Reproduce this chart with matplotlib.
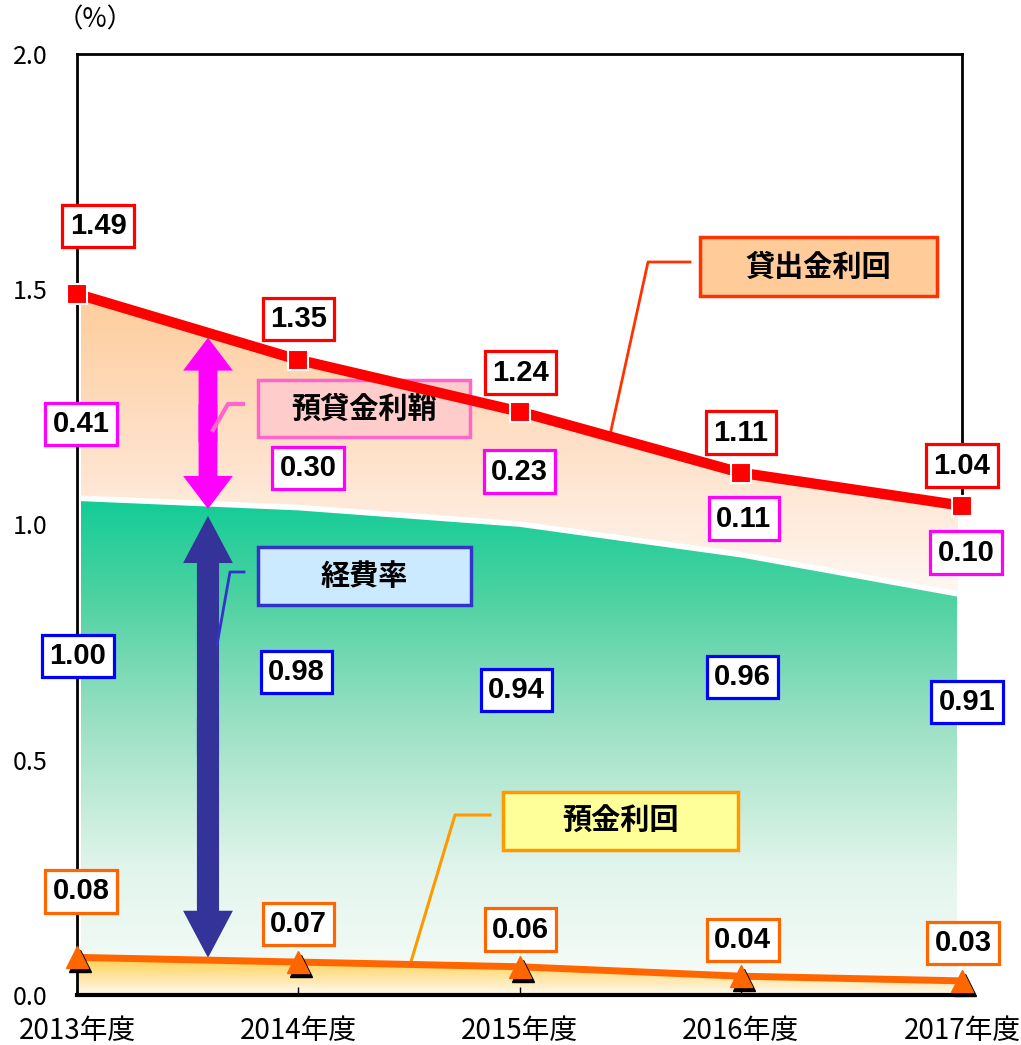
import numpy as np
import matplotlib
matplotlib.use("Agg")
import matplotlib.pyplot as plt
from matplotlib.colors import LinearSegmentedColormap
from matplotlib.patches import FancyArrow, Rectangle
from matplotlib.transforms import offset_copy

plt.rcParams['font.family'] = ['Liberation Sans', 'Noto Sans CJK JP']

# data
years = ['2013年度', '2014年度', '2015年度', '2016年度', '2017年度']
loan_rate = [1.49, 1.35, 1.24, 1.11, 1.04]      # 貸出金利回
spread = [0.41, 0.30, 0.23, 0.11, 0.10]         # 預貸金利鞘
expense = [1.00, 0.98, 0.94, 0.96, 0.91]        # 経費率
deposit = [0.08, 0.07, 0.06, 0.04, 0.03]        # 預金利回
green_top = [1.05, 1.03, 0.995, 0.93, 0.845]    # top of the green band as drawn

x = np.arange(len(years))

fig = plt.figure(figsize=(10.21, 10.45), dpi=100)
ax = fig.add_axes([77 / 1021, 1 - 995 / 1045, 885 / 1021, 941 / 1045])

narrow = ['Liberation Sans Narrow', 'Noto Sans CJK JP']


def px(xp, yp):
    # pixel position in the picture -> data coords
    return (xp - 77) / 221.25, (995 - yp) / 470.5


def vgrad(poly, extent, stops, z=1):
    cm = LinearSegmentedColormap.from_list('g', stops)
    img = np.linspace(0, 1, 256).reshape(-1, 1)
    im = ax.imshow(img, cmap=cm, extent=extent, origin='lower',
                   aspect='auto', zorder=z, interpolation='bicubic')
    im.set_clip_path(poly.get_paths()[0], ax.transData)


# gradient areas
p_or = ax.fill_between(x, loan_rate, np.array(green_top) + 0.012,
                       facecolor='none', edgecolor='none')
vgrad(p_or, [0.02, 3.98, 0.84, 1.5],
      [(0, '#fff8f3'), (0.5, '#fee0c8'), (1, '#ffcc99')])
p_gr = ax.fill_between(x, green_top, 0, facecolor='none', edgecolor='none')
vgrad(p_gr, [0.02, 3.977, 0, 1.055],
      [(0, '#f8fcfa'), (0.25, '#e2f5ec'), (0.55, '#9be0c4'),
       (0.8, '#4ed2a2'), (1, '#12cc96')])
p_ye = ax.fill_between(x, deposit, 0, facecolor='none', edgecolor='none')
vgrad(p_ye, [0, 4, 0, 0.085], [(0, '#fffaf0'), (1, '#ffcc44')], z=1.5)


def double_arrow(xc, top, bot, w, hl, color):
    mid = (top + bot) / 2
    for end, sgn in ((top, -1), (bot, 1)):
        start = mid + sgn * 0.04
        ax.add_patch(FancyArrow(xc, start, 0, end - start, width=w,
                                head_width=0.225, head_length=hl,
                                length_includes_head=True, color=color,
                                lw=0, zorder=3))


ax_x = 0.592
double_arrow(ax_x, np.interp(ax_x, x, loan_rate) - 0.01,
             np.interp(ax_x, x, green_top) - 0.005, 0.085, 0.07, '#ff00ff')
double_arrow(ax_x, np.interp(ax_x, x, green_top) - 0.02,
             np.interp(ax_x, x, deposit) + 0.005, 0.1, 0.1, '#333399')

# lines
ax.plot(x, loan_rate, color='red', lw=7.5, zorder=5, solid_capstyle='butt')
ax.plot(x, loan_rate, ls='none', marker='s', ms=14, mfc='red', mec='white',
        mew=1.5, zorder=6, clip_on=False)
ax.plot(x, deposit, color='#ff6600', lw=5, zorder=5)
shadow = offset_copy(ax.transData, fig=fig, x=3, y=-4, units='dots')
ax.plot(x, deposit, ls='none', marker='^', ms=16, color='black',
        transform=shadow, zorder=5.5, clip_on=False)
ax.plot(x, deposit, ls='none', marker='^', ms=16, color='#ff6600',
        mec='#ff6600', zorder=6, clip_on=False)

# callouts
callouts = [
    ('貸出金利回', (700, 237, 937, 296), '#ffcc99', '#ff3300',
     [(610, 435), (648, 262), (690, 262)], 2),
    ('預貸金利鞘', (258, 380, 470, 437), '#ffcccc', '#ff66cc',
     [(213, 430), (228, 404), (243, 404)], 3),
    ('経費率', (258, 547, 471, 605), '#cceaff', '#3333cc',
     [(217, 645), (230, 572), (244, 572)], 2),
    ('預金利回', (503, 792, 738, 850), '#ffff99', '#ff9900',
     [(410, 965), (455, 815), (490, 815)], 2.2),
]
for txt, (x0, y0, x1, y1), fc, ec, pts, lw in callouts:
    dx0, dy1 = px(x0, y1)
    dx1, dy0 = px(x1, y0)
    ax.add_patch(Rectangle((dx0, dy1), dx1 - dx0, dy0 - dy1, facecolor=fc,
                           edgecolor=ec, lw=2.5, zorder=4))
    ax.text((dx0 + dx1) / 2, (dy0 + dy1) / 2, txt, ha='center', va='center',
            fontsize=21, fontweight='bold', family='Noto Sans CJK JP',
            zorder=4.5)
    lx, ly = zip(*[px(a, b) for a, b in pts])
    ax.plot(lx, ly, color=ec, lw=lw, zorder=4)


# value labels
def labels(vals, anchors, offs, ec):
    for i, (v, a, (dx, dy)) in enumerate(zip(vals, anchors, offs)):
        ax.annotate(f'{v:.2f}', xy=(i, a), xytext=(dx, dy),
                    textcoords='offset pixels', ha='center', va='center',
                    fontsize=21, fontweight='bold', zorder=8,
                    annotation_clip=False,
                    bbox=dict(boxstyle='square,pad=0.25', fc='white',
                              ec=ec, lw=2.3))


labels(loan_rate, loan_rate, [(21, 68), (0, 41), (1, 39), (0, 40), (0, 40)], 'red')
labels(spread, loan_rate, [(4, -130), (10, -108), (0, -60), (3, -46), (4, -47)],
       '#ff00ff')
labels(expense, [0] * 5, [(1, 339), (-2, 323), (-3, 305), (2, 318), (5, 293)],
       '#0000ff')
labels(deposit, deposit, [(4, 66), (0, 38), (1, 37), (2, 36), (1, 38)], '#ff6600')

# axes
ax.set_xlim(0, 4)
ax.set_ylim(0, 2)
ax.set_xticks(x)
ax.set_xticklabels(years, family=narrow, fontsize=20)
ax.set_yticks([0, 0.5, 1.0, 1.5, 2.0])
ax.set_yticklabels(['0.0', '0.5', '1.0', '1.5', '2.0'], family=narrow, fontsize=18)
ax.tick_params(axis='x', direction='in', length=6, width=1, pad=15)
ax.tick_params(axis='y', length=0, pad=21)
ax.spines['right'].set_visible(False)
ax.spines['left'].set_linewidth(2)
ax.spines['top'].set_linewidth(2)
ax.spines['bottom'].set_linewidth(3)
ax.plot([4, 4], [2, loan_rate[-1]], color='black', lw=2, zorder=2,
        clip_on=False)
fig.text(95 / 1021, 1 - 20 / 1045, '（%）', ha='center', va='center',
         fontsize=19, family='Noto Sans CJK JP')

fig.savefig('out.png', dpi=100)
